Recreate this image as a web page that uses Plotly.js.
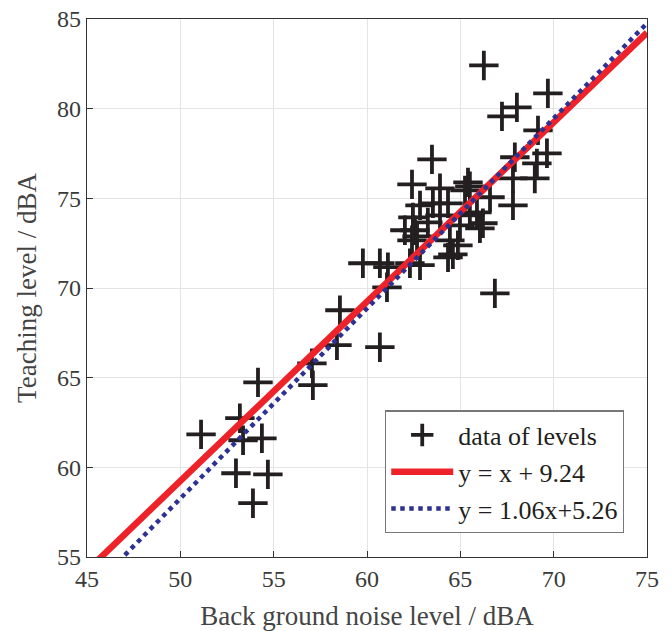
<!DOCTYPE html>
<html>
<head>
<meta charset="utf-8">
<script src="https://cdn.plot.ly/plotly-3.0.1.min.js"></script>
<style>html,body{margin:0;padding:0;background:#fff;}#chart{width:672px;height:631px;}</style>
</head>
<body>
<div id="chart"></div>
<script>
const noiseLevel = [66.26,69.69,68.03,67.23,69.16,63.48,69.64,67.92,69.10,67.82,68.99,62.41,63.91,65.41,65.51,65.25,66.59,67.82,
  62.84,63.53,64.34,65.89,62.46,65.51,66.05,62.03,62.57,62.41,62.68,64.44,64.87,64.34,64.60,62.84,62.30,66.21,63.91,63.26,64.98,
  59.78,60.69,61.12,61.07,58.55,58.39,60.69,57.05,57.10,66.85,
  51.11,54.16,53.19,53.36,54.37,52.98,54.69,53.89];
const teachingLevel = [82.41,80.85,80.07,79.57,78.79,77.17,77.51,77.29,76.95,76.11,76.11,75.78,75.56,75.89,75.67,75.44,75.06,74.61,
  74.61,74.72,74.72,74.22,73.94,74.05,73.33,73.22,73.22,72.66,72.88,72.66,72.38,71.71,71.88,71.27,71.38,73.61,74.05,73.66,73.49,
  71.38,71.38,71.16,70.04,68.76,66.81,66.70,65.80,64.58,69.70,
  61.84,64.74,62.74,61.51,61.62,59.67,59.61,58.00];
const fitX = [45, 75];
const fit1 = {slope: 1, intercept: 9.24, name: 'y = x + 9.24'};
const fit2 = {slope: 1.06, intercept: 5.26, name: 'y = 1.06x+5.26'};
const xTicks = [45,50,55,60,65,70,75];
const yTicks = [55,60,65,70,75,80,85];

const serif = 'Liberation Serif, serif';
const traces = [
  {x: noiseLevel, y: teachingLevel, mode: 'markers', type: 'scatter', name: 'data of levels',
   marker: {symbol: 'cross-thin', size: 21, line: {width: 3.8, color: '#231f20'}, color: '#231f20'}},
  {x: fitX, y: fitX.map(v => fit1.slope*v + fit1.intercept), mode: 'lines', type: 'scatter', name: fit1.name,
   line: {color: '#ee2229', width: 6.5}},
  {x: fitX, y: fitX.map(v => fit2.slope*v + fit2.intercept), mode: 'lines', type: 'scatter', name: fit2.name,
   line: {color: '#2e3192', width: 4.5, dash: 'dot'}}
];
const axisCommon = {
  showline: true, mirror: true, linecolor: '#333', linewidth: 1.2,
  showgrid: true, gridcolor: '#e4e4e4', gridwidth: 1,
  ticks: 'inside', ticklen: 6, tickcolor: '#333', zeroline: false,
  tickfont: {family: serif, size: 24, color: '#3a3a3a'}
};
const layout = {
  width: 672, height: 631,
  margin: {l: 87, r: 25, t: 19, b: 74},
  paper_bgcolor: '#fff', plot_bgcolor: '#fff',
  showlegend: true,
  xaxis: Object.assign({}, axisCommon, {range: [45, 75], tickvals: xTicks,
    title: {text: 'Back ground noise level / dBA', standoff: 15, font: {family: serif, size: 27, color: '#444'}}}),
  yaxis: Object.assign({}, axisCommon, {range: [55, 85], tickvals: yTicks,
    title: {text: 'Teaching level / dBA', standoff: 12, font: {family: serif, size: 27, color: '#444'}}}),
  legend: {x: 0.959, y: 0.044, xanchor: 'right', yanchor: 'bottom', bgcolor: '#fff',
    bordercolor: '#777', borderwidth: 1.2, itemwidth: 62, tracegroupgap: 0,
    font: {family: serif, size: 26, color: '#231f20'}}
};
Plotly.newPlot('chart', traces, layout, {displayModeBar: false, staticPlot: true});
</script>
</body>
</html>
